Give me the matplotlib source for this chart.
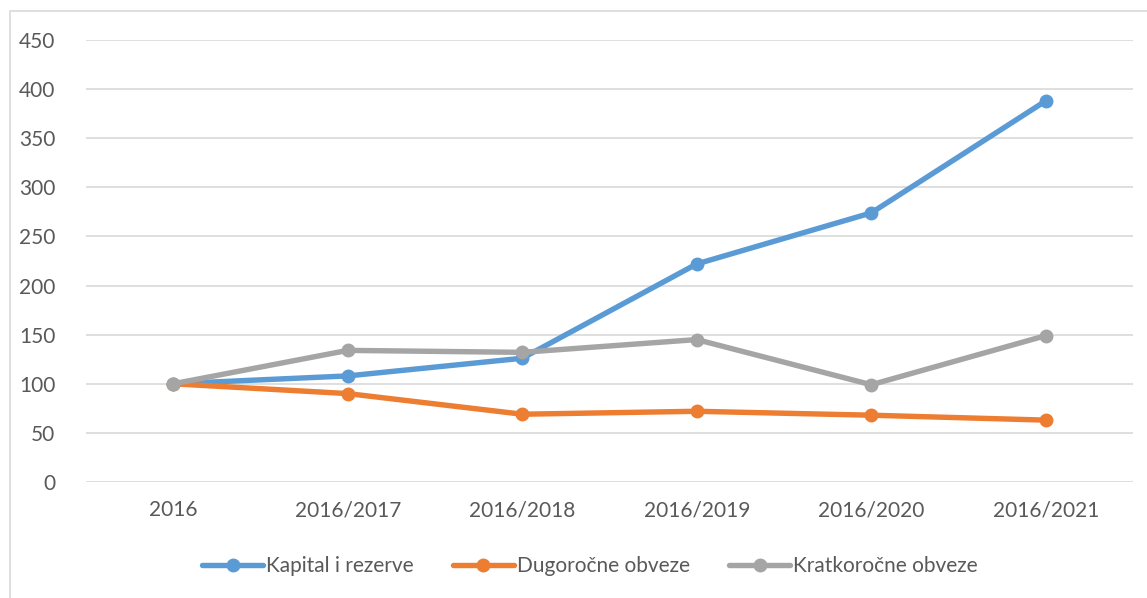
import matplotlib
matplotlib.use("Agg")
import matplotlib.pyplot as plt
from matplotlib.patches import Rectangle

categories = ["2016", "2016/2017", "2016/2018", "2016/2019", "2016/2020", "2016/2021"]
kapital = [100, 108, 126, 222, 274, 388]
dugorocne = [100, 90, 69, 72, 68, 63]
kratkorocne = [100, 134, 132, 145, 99, 149]
yticks = [0, 50, 100, 150, 200, 250, 300, 350, 400, 450]

plt.rcParams['font.family'] = ['Lato', 'DejaVu Sans']
W, H = 1147, 598
fig = plt.figure(figsize=(W/100, H/100), dpi=100)
ax = fig.add_axes([86/W, 1-482/H, (1133-86)/W, (482-40)/H])

x = list(range(len(categories)))
series = [("Kapital i rezerve", kapital, "#5B9BD5"),
          ("Dugoročne obveze", dugorocne, "#ED7D31"),
          ("Kratkoročne obveze", kratkorocne, "#A5A5A5")]
for name, vals, col in series:
    ax.plot(x, vals, color=col, lw=3.9, marker='o', ms=9, label=name,
            solid_capstyle='round', zorder=3)

ax.set_xlim(-0.5, len(categories)-0.5)
ax.set_ylim(0, 450)
ax.set_yticks(yticks)
ax.set_xticks(x)
ax.set_xticklabels(categories)
ax.yaxis.grid(True, color="#D9D9D9", lw=1.2)
ax.set_axisbelow(True)
for s in ax.spines.values():
    s.set_visible(False)
ax.tick_params(axis='both', length=0, labelsize=15, colors="#595959")
ax.tick_params(axis='y', pad=22)
ax.tick_params(axis='x', pad=13)

fig.legend(loc='center', bbox_to_anchor=(590/W, 1-566/H), ncol=3, frameon=False,
           fontsize=15, labelcolor="#595959", handlelength=2.9, handletextpad=0.15,
           columnspacing=1.9)

fig.patches.append(Rectangle((9.5/W, -0.1), 2, 1.1-11.5/H, transform=fig.transFigure,
                             fill=False, edgecolor="#D9D9D9", lw=1.2))

fig.savefig("out.png", dpi=100)
